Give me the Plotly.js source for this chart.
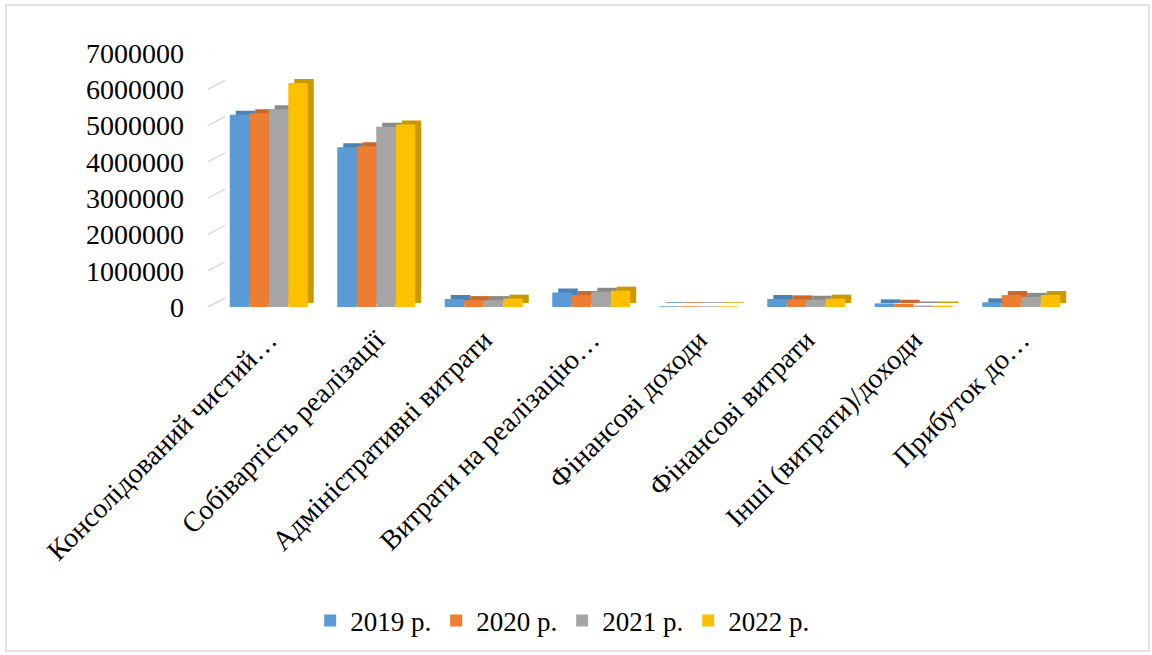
<!DOCTYPE html>
<html>
<head>
<meta charset="utf-8">
<script src="https://cdn.plot.ly/plotly-3.0.1.min.js"></script>
<style>
  html, body { margin: 0; padding: 0; background: #ffffff; }
  #chart { width: 1152px; height: 655px; }
</style>
</head>
<body>
<div id="chart"></div>
<script>
// ---- data ----
const categories = [
  "Консолідований чистий…",
  "Собівартість реалізації",
  "Адміністративні витрати",
  "Витрати на реалізацію…",
  "Фінансові доходи",
  "Фінансові витрати",
  "Інші (витрати)/доходи",
  "Прибуток до…"
];
const seriesNames = ["2019 р.", "2020 р.", "2021 р.", "2022 р."];
const v2019 = [5300000, 4400000, 220000, 400000, 20000, 220000, 100000, 130000];
const v2020 = [5340000, 4430000, 190000, 330000, 20000, 210000, 90000, 330000];
const v2021 = [5450000, 4970000, 190000, 420000, 20000, 200000, 40000, 280000];
const v2022 = [6170000, 5030000, 230000, 450000, 20000, 230000, 40000, 330000];
const yTickValues = [0, 1000000, 2000000, 3000000, 4000000, 5000000, 6000000, 7000000];
const yTickLabels = ["0", "1000000", "2000000", "3000000", "4000000", "5000000", "6000000", "7000000"];

// ---- styles / geometry ----
const W = 1152, H = 655;
const frontColors = ["#5b9bd5", "#ed7d31", "#a5a5a5", "#ffc000"];
const sideColors  = ["#4a82b6", "#c8682a", "#8a8a8a", "#c99a00"];
const font = "Times New Roman, Liberation Serif, DejaVu Serif, serif";
const yMax = 7000000;
const frontXpx = [215, 1075], backXpx = [225, 1085];
const frontYpx = [307, 53], backYpx = [298, 44];
const pxPerUnit = (frontYpx[0] - frontYpx[1]) / yMax;
const catPx = (frontXpx[1] - frontXpx[0]) / categories.length;
const barW = 19.5 / catPx;
const groupW = barW * 4;
const depthX = 6 / catPx;
const depthY = 4 / pxPerUnit;
const wallY = (frontYpx[0] - backYpx[0]) / pxPerUnit;

const all = [v2019, v2020, v2021, v2022];
const traces = [];
// depth faces (drawn first, behind)
all.forEach((vals, i) => {
  traces.push({
    type: "bar", x: categories, y: vals, base: depthY,
    xaxis: "x2", yaxis: "y2",
    width: barW, offset: -groupW / 2 + i * barW + depthX,
    marker: { color: sideColors[i], line: { width: 0 } },
    showlegend: false, hoverinfo: "skip"
  });
});
// front faces
all.forEach((vals, i) => {
  traces.push({
    type: "bar", x: categories, y: vals, name: seriesNames[i],
    xaxis: "x2", yaxis: "y2",
    width: barW, offset: -groupW / 2 + i * barW,
    marker: { color: frontColors[i], line: { width: 0 } },
    hoverinfo: "y"
  });
});

const shapes = yTickValues.map(v => ({
  type: "line", xref: "paper", yref: "y2",
  x0: 208 / W, x1: backXpx[0] / W, y0: v, y1: v + wallY,
  line: { color: "#d9d9d9", width: 1.5 }, layer: "below"
}));
shapes.push({
  type: "rect", xref: "paper", yref: "paper",
  x0: 6 / W, x1: 1149 / W, y0: (H - 651) / H, y1: (H - 5) / H,
  line: { color: "#d9d9d9", width: 1.5 }
});

const layout = {
  width: W, height: H,
  margin: { l: 0, r: 0, t: 0, b: 0 },
  paper_bgcolor: "#ffffff",
  plot_bgcolor: "rgba(0,0,0,0)",
  barmode: "overlay",
  font: { family: font, size: 28, color: "#000000" },
  // back wall (gridlines)
  xaxis: {
    domain: [backXpx[0] / W, backXpx[1] / W], anchor: "y",
    range: [-0.5, categories.length - 0.5], type: "linear",
    showgrid: false, zeroline: false, showticklabels: false, showline: false, fixedrange: true
  },
  yaxis: {
    domain: [(H - backYpx[0]) / H, (H - backYpx[1]) / H], anchor: "x",
    range: [0, yMax], tickvals: yTickValues, showticklabels: false,
    showgrid: true, gridcolor: "#d9d9d9", gridwidth: 1.5,
    zeroline: false, showline: false, fixedrange: true
  },
  // front (bars)
  xaxis2: {
    domain: [frontXpx[0] / W, frontXpx[1] / W], anchor: "y2",
    type: "category", range: [-0.5, categories.length - 0.5],
    tickangle: -45, ticks: "", showgrid: false, zeroline: false, showline: false,
    tickfont: { family: font, size: 28, color: "#000000" },
    ticklabelstandoff: 10, automargin: false, fixedrange: true
  },
  yaxis2: {
    domain: [(H - frontYpx[0]) / H, (H - frontYpx[1]) / H], anchor: "x2",
    range: [0, yMax], tickvals: yTickValues, ticktext: yTickLabels,
    ticks: "", showgrid: false, zeroline: false, showline: false,
    tickfont: { family: font, size: 28, color: "#000000" },
    ticklabelstandoff: 30, automargin: false, fixedrange: true
  },
  shapes: shapes,
  legend: {
    orientation: "h", x: 0.488, xanchor: "center", y: (H - 621) / H, yanchor: "middle",
    font: { family: font, size: 27, color: "#000000" },
    traceorder: "normal", itemclick: false, itemdoubleclick: false
  },
  showlegend: true
};

Plotly.newPlot("chart", traces, layout, { displayModeBar: false, staticPlot: true });
</script>
</body>
</html>
